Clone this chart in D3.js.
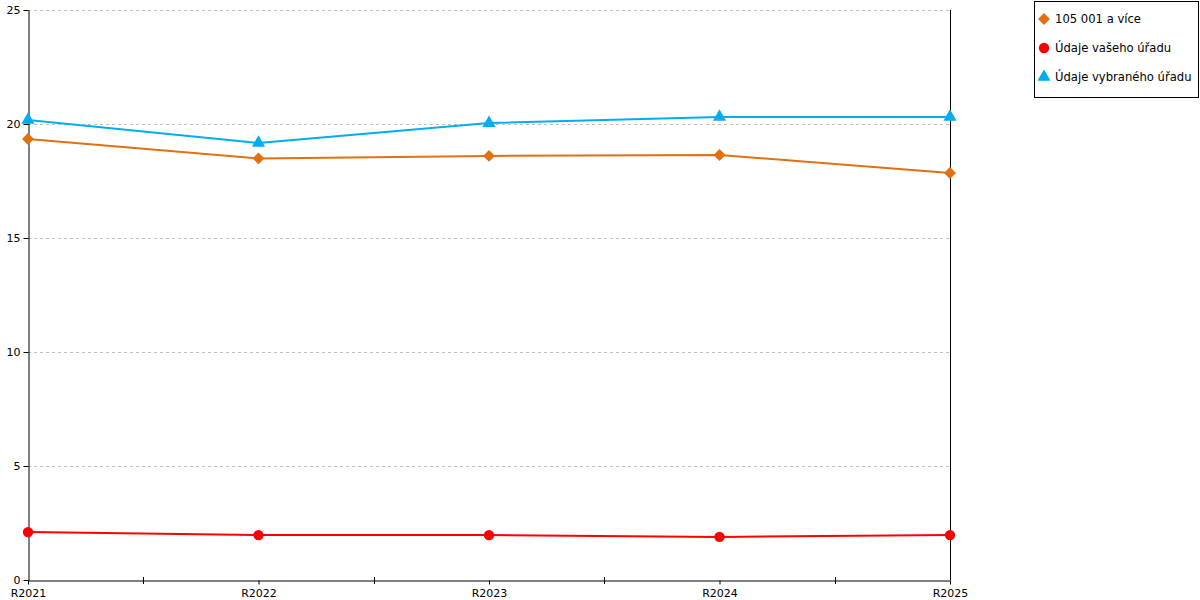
<html>
<head>
<script src="https://d3js.org/d3.v7.min.js"></script>
<style>
  body { margin: 0; background: #fff; }
  text { font-family: "DejaVu Sans", sans-serif; }
</style>
</head>
<body>
<svg id="chart" width="1200" height="600"></svg>
<script>
// data
const years = ["R2021", "R2022", "R2023", "R2024", "R2025"];
const kategorie = [19.34, 18.49, 18.6, 18.64, 17.85];
const vasUrad = [2.1, 1.97, 1.97, 1.89, 1.97];
const vybranyUrad = [20.18, 19.17, 20.04, 20.31, 20.31];
const yTicks = [0, 5, 10, 15, 20, 25];
const seriesNames = ["105 001 a více", "Údaje vašeho úřadu", "Údaje vybraného úřadu"];

const svg = d3.select("#chart");
const plotLeft = 28, plotRight = 950, plotTop = 10, plotBottom = 580;

const x = d3.scalePoint().domain(years).range([plotLeft, plotRight]);
const y = d3.scaleLinear().domain([0, 25]).range([plotBottom, plotTop]);

// grid
svg.append("g").selectAll("line").data(yTicks.filter(d => d > 0)).enter()
  .append("line")
  .attr("x1", plotLeft).attr("x2", plotRight)
  .attr("y1", d => y(d) + 0.5).attr("y2", d => y(d) + 0.5)
  .attr("stroke", "#c0c0c0").attr("stroke-dasharray", "3,3");

// y axis
const yAxis = svg.append("g").attr("transform", "translate(" + (plotLeft + 0.5) + ",0)")
  .call(d3.axisLeft(y).tickValues(yTicks).tickSize(5).tickSizeOuter(0));
yAxis.select(".domain").attr("stroke", "#000");
yAxis.selectAll("line").attr("stroke", "#000");
yAxis.selectAll("text").attr("font-size", 11).attr("fill", "#000").attr("x", -8).attr("dy", "0.3em");

// right border line
svg.append("line").attr("x1", plotRight + 0.5).attr("x2", plotRight + 0.5)
  .attr("y1", plotTop).attr("y2", plotBottom).attr("stroke", "#000");

// x axis
const xAxis = svg.append("g").attr("transform", "translate(0," + (plotBottom + 0.5) + ")")
  .call(d3.axisBottom(x).tickSize(4).tickSizeOuter(0));
xAxis.select(".domain").attr("stroke", "#000");
xAxis.selectAll("line").attr("stroke", "#000");
xAxis.selectAll("text").attr("font-size", 11).attr("fill", "#000").attr("dy", "0.9em").attr("y", 7);
// intermediate ticks between categories
const mids = d3.pairs(years).map(p => (x(p[0]) + x(p[1])) / 2);
svg.append("g").selectAll("line").data(mids).enter().append("line")
  .attr("x1", d => Math.round(d) + 0.5).attr("x2", d => Math.round(d) + 0.5)
  .attr("y1", plotBottom - 3).attr("y2", plotBottom + 4).attr("stroke", "#000");

const series = [
  { name: seriesNames[0], values: kategorie, color: "#e07010", symbol: d3.symbolDiamond2, size: 90 },
  { name: seriesNames[1], values: vasUrad, color: "#ff0000", symbol: d3.symbolCircle, size: 85 },
  { name: seriesNames[2], values: vybranyUrad, color: "#00aeef", symbol: d3.symbolTriangle, size: 75 }
];

const line = d3.line().x((d, i) => x(years[i])).y(d => y(d));

series.forEach(s => {
  svg.append("path").datum(s.values)
    .attr("d", line).attr("fill", "none")
    .attr("stroke", s.color).attr("stroke-width", 2);
  svg.append("g").selectAll("path").data(s.values).enter().append("path")
    .attr("d", d3.symbol().type(s.symbol).size(s.size))
    .attr("transform", (d, i) => "translate(" + x(years[i]) + "," + y(d) + ")")
    .attr("fill", s.color);
});

// legend
const lg = svg.append("g");
lg.append("rect").attr("x", 1034.5).attr("y", 1.5).attr("width", 164).attr("height", 96)
  .attr("fill", "#fff").attr("stroke", "#000");
series.forEach((s, i) => {
  const cy = 19 + i * 29;
  lg.append("path").attr("d", d3.symbol().type(s.symbol).size(s.size))
    .attr("transform", "translate(1044," + cy + ")").attr("fill", s.color);
  lg.append("text").attr("x", 1055).attr("y", cy).attr("dy", "0.35em")
    .attr("font-size", 11.6).text(s.name);
});
</script>
</body>
</html>
